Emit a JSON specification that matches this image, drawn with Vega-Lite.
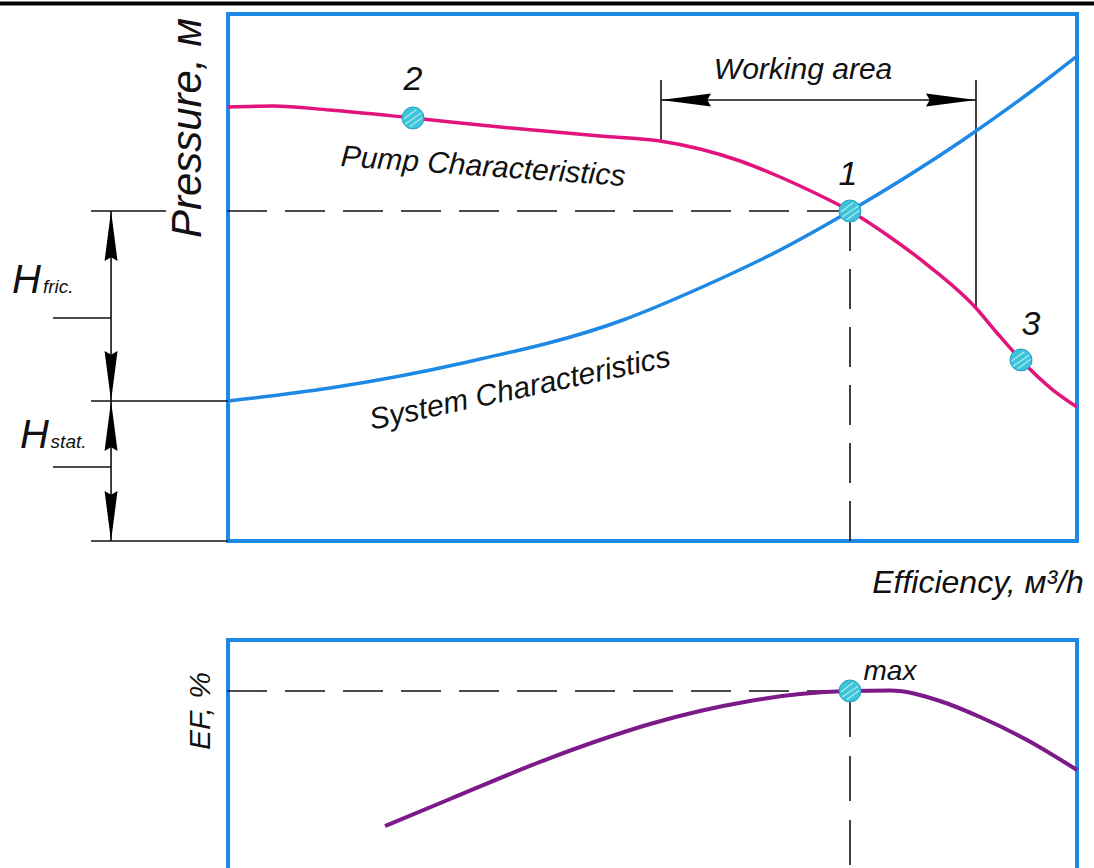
{
  "$schema": "https://vega.github.io/schema/vega-lite/v6.json",
  "width": 1094,
  "height": 868,
  "autosize": {"type": "none"},
  "padding": 0,
  "background": "white",
  "config": {"view": {"stroke": null}},
  "datasets": {
    "frames": [{"q": 0, "h": 0, "q2": 100, "h2": 100}, {"q": 0, "h": -18.79, "q2": 100, "h2": -63.5}],
    "topline": [{"q": -26.86, "h": 101.99, "q2": 102, "h2": 101.99}],
    "thin": [
      {"q": -16.14, "h": 62.62, "q2": -7.3, "h2": 62.62},
      {"q": -16.14, "h": 26.57, "q2": 0, "h2": 26.57},
      {"q": -16.14, "h": 0, "q2": 0, "h2": 0},
      {"q": -20.61, "h": 42.31, "q2": -13.78, "h2": 42.31},
      {"q": -20.61, "h": 14.04, "q2": -13.78, "h2": 14.04},
      {"q": -13.78, "h": 62.62, "q2": -13.78, "h2": 0},
      {"q": 51.0, "h": 87.48, "q2": 51.0, "h2": 75.9},
      {"q": 88.1, "h": 87.48, "q2": 88.1, "h2": 44.4},
      {"q": 51.0, "h": 83.68, "q2": 88.1, "h2": 83.68}
    ],
    "dash_top": [
      {"q": -0.12, "h": 62.62, "q2": 73.26, "h2": 62.62},
      {"q": 73.26, "h": 62.62, "q2": 73.26, "h2": 0},
      {"q": -0.12, "h": -28.46, "q2": 73.26, "h2": -28.46}
    ],
    "dash_bottom": [{"q": 73.26, "h": -28.65, "q2": 73.26, "h2": -62.4}],
    "pump": [
      {"q": 0, "h": 82.35}, {"q": 5.3, "h": 82.54}, {"q": 12.01, "h": 81.78}, {"q": 21.79, "h": 80.27},
      {"q": 32.04, "h": 78.56}, {"q": 43.82, "h": 76.85}, {"q": 50.88, "h": 75.9}, {"q": 55.59, "h": 74.38},
      {"q": 60.31, "h": 72.11}, {"q": 65.02, "h": 69.07}, {"q": 69.14, "h": 66.03}, {"q": 73.26, "h": 62.62},
      {"q": 77.97, "h": 57.69}, {"q": 82.69, "h": 51.99}, {"q": 87.99, "h": 44.4}, {"q": 90.58, "h": 39.47},
      {"q": 93.4, "h": 34.35}, {"q": 97.17, "h": 28.65}, {"q": 100, "h": 25.43}
    ],
    "system": [
      {"q": 0, "h": 26.57}, {"q": 12.01, "h": 29.03}, {"q": 27.68, "h": 33.78}, {"q": 46.53, "h": 41.94},
      {"q": 55.59, "h": 48.01}, {"q": 65.02, "h": 55.22}, {"q": 73.26, "h": 62.62}, {"q": 86.57, "h": 76.09},
      {"q": 94.82, "h": 85.58}, {"q": 100, "h": 92.03}
    ],
    "ef": [
      {"q": 18.49, "h": -54.08}, {"q": 26.15, "h": -48.96}, {"q": 37.93, "h": -41.18}, {"q": 43.82, "h": -37.76},
      {"q": 49.71, "h": -34.72}, {"q": 55.59, "h": -32.26}, {"q": 61.48, "h": -30.36}, {"q": 67.37, "h": -29.03},
      {"q": 73.26, "h": -28.46}, {"q": 77.97, "h": -28.37}, {"q": 83.86, "h": -30.36}, {"q": 88.58, "h": -33.4},
      {"q": 94.11, "h": -37.76}, {"q": 100, "h": -43.45}
    ],
    "arrows": [
      {"q": 51.0, "h": 83.68, "angle": 270}, {"q": 88.1, "h": 83.68, "angle": 90},
      {"q": -13.78, "h": 62.62, "angle": 0}, {"q": -13.78, "h": 26.57, "angle": 180},
      {"q": -13.78, "h": 26.57, "angle": 0}, {"q": -13.78, "h": 0, "angle": 180}
    ],
    "points": [
      {"q": 73.26, "h": 62.62, "name": "1"}, {"q": 21.79, "h": 80.27, "name": "2"},
      {"q": 93.4, "h": 34.35, "name": "3"}, {"q": 73.26, "h": -28.46, "name": "max"}
    ]
  },
  "encoding": {
    "x": {"field": "q", "type": "quantitative", "scale": {"domain": [-26.86, 102.0], "nice": false, "zero": false}, "axis": null},
    "y": {"field": "h", "type": "quantitative", "scale": {"domain": [-62.05, 102.66], "nice": false, "zero": false}, "axis": null}
  },
  "layer": [
    {"data": {"name": "frames"}, "mark": {"type": "rect", "fill": null, "fillOpacity": 0, "stroke": "#1E88E5", "strokeWidth": 4},
     "encoding": {"x2": {"field": "q2"}, "y2": {"field": "h2"}}},
    {"data": {"name": "topline"}, "mark": {"type": "rule", "color": "#000", "strokeWidth": 4},
     "encoding": {"x2": {"field": "q2"}, "y2": {"field": "h2"}}},
    {"data": {"name": "dash_top"}, "mark": {"type": "rule", "color": "#111", "strokeWidth": 1.6, "strokeDash": [40, 18]},
     "encoding": {"x2": {"field": "q2"}, "y2": {"field": "h2"}}},
    {"data": {"name": "dash_bottom"}, "mark": {"type": "rule", "color": "#111", "strokeWidth": 1.6, "strokeDash": [45, 19]},
     "encoding": {"x2": {"field": "q2"}, "y2": {"field": "h2"}}},
    {"data": {"name": "thin"}, "mark": {"type": "rule", "color": "#111", "strokeWidth": 1.6},
     "encoding": {"x2": {"field": "q2"}, "y2": {"field": "h2"}}},
    {"data": {"name": "system"}, "mark": {"type": "line", "color": "#1E88E5", "strokeWidth": 3.5, "interpolate": "monotone"}},
    {"data": {"name": "pump"}, "mark": {"type": "line", "color": "#E3137E", "strokeWidth": 3.5, "interpolate": "monotone"}},
    {"data": {"name": "ef"}, "mark": {"type": "line", "color": "#7B1A88", "strokeWidth": 4, "interpolate": "monotone"}},
    {"data": {"name": "arrows"}, "mark": {"type": "point", "shape": "M0,0L0.26,2L0,1.85L-0.26,2Z", "filled": true, "color": "#000", "size": 2500, "opacity": 1},
     "encoding": {"angle": {"field": "angle", "type": "quantitative", "scale": null}}},
    {"data": {"name": "points"}, "mark": {"type": "point", "shape": "circle", "filled": true, "fill": "#3CC4D8", "stroke": "#2A9CC6", "strokeWidth": 1, "size": 484, "opacity": 1}},
    {"data": {"name": "points"}, "mark": {"type": "point", "shape": "M-0.85,0.1L0.3,-0.75M-0.7,0.55L0.75,-0.45M-0.3,0.8L0.85,-0.05", "filled": false, "stroke": "#BDEFF6", "strokeWidth": 1.2, "size": 484, "opacity": 0.9}},
    {"data": {"values": [{"q": 21.79, "h": 87.48, "t": "2"}, {"q": 73.03, "h": 69.45, "t": "1"}, {"q": 94.58, "h": 40.99, "t": "3"}]},
     "mark": {"type": "text", "font": "Liberation Sans", "fontStyle": "italic", "fontSize": 34, "color": "#111", "align": "center", "baseline": "middle"},
     "encoding": {"text": {"field": "t"}}},
    {"data": {"values": [{"q": 77.97, "h": -24.86, "t": "max"}]},
     "mark": {"type": "text", "font": "Liberation Sans", "fontStyle": "italic", "fontSize": 28, "color": "#111", "align": "center", "baseline": "middle"},
     "encoding": {"text": {"field": "t"}}},
    {"data": {"values": [{"q": 30.04, "h": 70.97, "t": "Pump Characteristics"}]},
     "mark": {"type": "text", "font": "Liberation Sans", "fontStyle": "italic", "fontSize": 30, "color": "#111", "align": "center", "baseline": "middle", "angle": 4},
     "encoding": {"text": {"field": "t"}}},
    {"data": {"values": [{"q": 34.39, "h": 28.84, "t": "System Characteristics"}]},
     "mark": {"type": "text", "font": "Liberation Sans", "fontStyle": "italic", "fontSize": 30, "color": "#111", "align": "center", "baseline": "middle", "angle": -12},
     "encoding": {"text": {"field": "t"}}},
    {"data": {"values": [{"q": 67.73, "h": 89.37, "t": "Working area"}]},
     "mark": {"type": "text", "font": "Liberation Sans", "fontStyle": "italic", "fontSize": 30, "color": "#111", "align": "center", "baseline": "middle"},
     "encoding": {"text": {"field": "t"}}},
    {"data": {"values": [{"q": -4.71, "h": 78.37, "t": "Pressure, м"}]},
     "mark": {"type": "text", "font": "Liberation Sans", "fontStyle": "italic", "fontSize": 42, "color": "#111", "align": "center", "baseline": "middle", "angle": -90},
     "encoding": {"text": {"field": "t"}}},
    {"data": {"values": [{"q": 88.34, "h": -7.97, "t": "Efficiency, м³/h"}]},
     "mark": {"type": "text", "font": "Liberation Sans", "fontStyle": "italic", "fontSize": 32, "color": "#111", "align": "center", "baseline": "middle"},
     "encoding": {"text": {"field": "t"}}},
    {"data": {"values": [{"q": -3.18, "h": -32.26, "t": "EF, %"}]},
     "mark": {"type": "text", "font": "Liberation Sans", "fontStyle": "italic", "fontSize": 30, "color": "#111", "align": "center", "baseline": "middle", "angle": -90},
     "encoding": {"text": {"field": "t"}}},
    {"data": {"values": [{"q": -25.44, "h": 47.06, "t": "H"}, {"q": -24.5, "h": 17.65, "t": "H"}]},
     "mark": {"type": "text", "font": "Liberation Sans", "fontStyle": "italic", "fontSize": 40, "color": "#111", "align": "left", "baseline": "alphabetic"},
     "encoding": {"text": {"field": "t"}}},
    {"data": {"values": [{"q": -21.8, "h": 47.06, "t": "fric."}, {"q": -20.9, "h": 17.65, "t": "stat."}]},
     "mark": {"type": "text", "font": "Liberation Sans", "fontStyle": "italic", "fontSize": 19, "color": "#111", "align": "left", "baseline": "alphabetic"},
     "encoding": {"text": {"field": "t"}}}
  ]
}
